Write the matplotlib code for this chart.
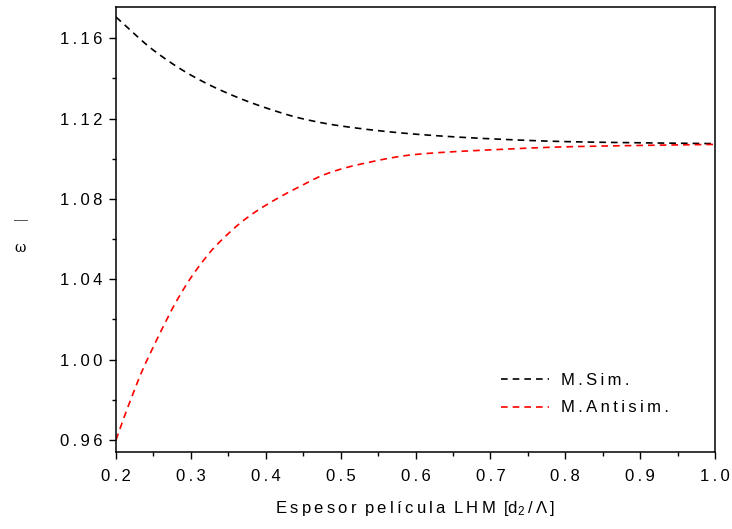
import matplotlib
matplotlib.use("Agg")
import matplotlib.pyplot as plt
import numpy as np
from matplotlib.ticker import MultipleLocator, FuncFormatter

plt.rcParams['font.family'] = ['Liberation Sans', 'DejaVu Sans']
plt.rcParams['mathtext.fontset'] = 'custom'
plt.rcParams['mathtext.rm'] = 'Liberation Sans'
plt.rcParams['mathtext.it'] = 'Liberation Sans'

sym_x = [0.2, 0.25, 0.3, 0.35, 0.4, 0.45, 0.5, 0.6, 0.7, 0.8, 0.9, 1.0]
sym_mode = [1.1705, 1.1540, 1.1416, 1.1324, 1.1253, 1.1198, 1.1163, 1.1122, 1.1099, 1.1085, 1.1079, 1.1075]
anti_x = [0.2, 0.21, 0.221, 0.23, 0.239, 0.248, 0.257, 0.266, 0.277, 0.288, 0.299, 0.312,
          0.328, 0.348, 0.368, 0.388, 0.408, 0.428, 0.45, 0.472, 0.494, 0.523, 0.6, 0.7,
          0.8, 0.9, 1.0]
antisym_mode = [0.9600, 0.9705, 0.9814, 0.9900, 0.9978, 1.0049, 1.0119, 1.0186, 1.0266, 1.0337,
                1.0402, 1.0470, 1.0545, 1.0620, 1.0686, 1.0740, 1.0786, 1.0828, 1.0870, 1.0911,
                1.0941, 1.0970, 1.1021, 1.1044, 1.1059, 1.1066, 1.1071]

TS = '\u2009'
WS = '\u2002'


def spaced(s):
    return TS.join(s)


def smooth(x, y, n=300):
    x = np.asarray(x, float); y = np.asarray(y, float)
    xs = np.linspace(x[0], x[-1], n)
    h = np.diff(x); d = np.diff(y) / h
    m = np.zeros_like(y)
    m[0] = d[0]; m[-1] = d[-1]
    for i in range(1, len(x) - 1):
        if d[i-1] * d[i] <= 0:
            m[i] = 0
        else:
            w1 = 2*h[i] + h[i-1]; w2 = h[i] + 2*h[i-1]
            m[i] = (w1 + w2) / (w1/d[i-1] + w2/d[i])
    ys = np.empty_like(xs)
    for j, xv in enumerate(xs):
        i = min(np.searchsorted(x, xv, side='right') - 1, len(x) - 2)
        t = (xv - x[i]) / h[i]
        h00 = 2*t**3 - 3*t**2 + 1; h10 = t**3 - 2*t**2 + t
        h01 = -2*t**3 + 3*t**2; h11 = t**3 - t**2
        ys[j] = h00*y[i] + h10*h[i]*m[i] + h01*y[i+1] + h11*h[i]*m[i+1]
    return xs, ys


fig = plt.figure(figsize=(7.32, 5.29), dpi=100)
ax = fig.add_axes([116/732, 1 - 452/529, (715-116)/732, (452-7)/529])

xs, ys = smooth(sym_x, sym_mode)
ax.plot(xs, ys, color='black', lw=1.2, ls=(0, (4, 3)), label=spaced('M.Sim.'))
xs, ys = smooth(anti_x, antisym_mode)
ax.plot(xs, ys, color='#ff0000', lw=1.2, ls=(0, (4, 3)), label=spaced('M.Antisim.'))

ax.set_xlim(0.2, 1.0)
ax.set_ylim(0.954, 1.1755)
ax.xaxis.set_major_locator(MultipleLocator(0.1))
ax.xaxis.set_minor_locator(MultipleLocator(0.05))
ax.yaxis.set_major_locator(MultipleLocator(0.04))
ax.yaxis.set_minor_locator(MultipleLocator(0.02))
ax.xaxis.set_major_formatter(FuncFormatter(lambda v, p: spaced('%.1f' % v)))
ax.yaxis.set_major_formatter(FuncFormatter(lambda v, p: spaced('%.2f' % v)))
ax.tick_params(which='both', direction='out', top=False, right=False, colors='black', labelsize=12)
ax.tick_params(which='major', length=5, width=1)
ax.tick_params(which='minor', length=3, width=1)
ax.tick_params(axis='x', pad=7)
ax.tick_params(axis='y', pad=5)
for s in ax.spines.values():
    s.set_linewidth(1.1)

xl = WS.join(spaced(w) for w in ['Espesor', 'película', 'LHM']) + WS + TS.join(['[d$_2$', '/', 'Λ', ']'])
ax.set_xlabel(xl, fontsize=12)
ax.xaxis.set_label_coords(0.5, -(508 - 452) / 445, transform=ax.transAxes)
ax.xaxis.label.set_va('center')

fig.text(20.5/732, 1 - 220/529, '—', ha='center', va='center', fontsize=10, color='#555555')
fig.text(20.5/732, 1 - 248/529, 'ω', ha='center', va='center', fontsize=10, family=['DejaVu Serif'])

ax.legend(loc='upper left', bbox_to_anchor=((501-116)/599, (452-373)/445), frameon=False,
          fontsize=12, handlelength=2.9, handletextpad=0.7, labelspacing=0.75,
          borderpad=0, borderaxespad=0)

fig.savefig('out.png', dpi=100)
